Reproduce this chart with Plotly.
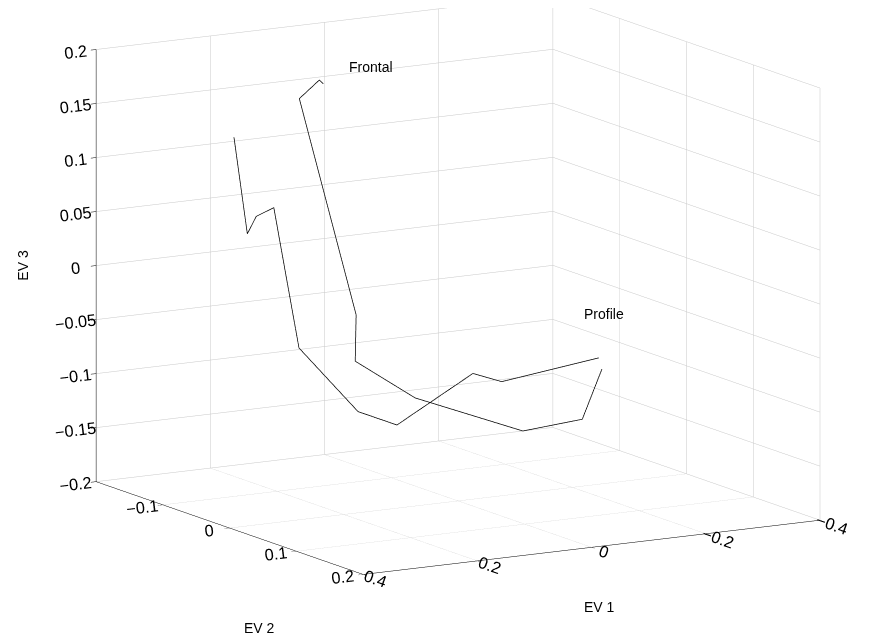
import plotly.graph_objects as go

# Curve "Frontal -> Profile", sequence 1
ev1_a = [0.119, 0.126, 0.161, 0.120, 0.145, 0.075, -0.055, -0.124, -0.135]
ev2_a = [-0.10, -0.10, -0.10, -0.05, -0.03, 0.00, 0.05, 0.08, 0.10]
ev3_a = [0.172, 0.176, 0.161, -0.031, -0.068, -0.100, -0.128, -0.115, -0.065]

# Sequence 2
ev1_b = [0.217, 0.217, 0.213, 0.194, 0.185, 0.140, 0.107, 0.009, -0.018, -0.153]
ev2_b = [-0.15, -0.13, -0.12, -0.11, -0.08, -0.03, 0.00, 0.03, 0.05, 0.08]
ev3_b = [0.118, 0.033, 0.051, 0.060, -0.064, -0.115, -0.123, -0.075, -0.080, -0.060]

# Text labels
label_text = ["Frontal", "Profile"]
label_ev1 = [0.077, -0.100]
label_ev2 = [-0.10, 0.10]
label_ev3 = [0.185, -0.0115]

# Axis ticks
ev1_ticks = [-0.4, -0.2, 0, 0.2, 0.4]
ev2_ticks = [-0.2, -0.1, 0, 0.1, 0.2]
ev3_ticks = [-0.2, -0.15, -0.1, -0.05, 0, 0.05, 0.1, 0.15, 0.2]

# Axis titles
axis_titles = ["EV 1", "EV 2", "EV 3"]

FONT = "Liberation Sans, Arial, Helvetica, sans-serif"

fig = go.Figure()
for xs, ys, zs in [(ev1_a, ev2_a, ev3_a), (ev1_b, ev2_b, ev3_b)]:
    fig.add_trace(go.Scatter3d(
        x=xs, y=ys, z=zs, mode="lines",
        line=dict(color="black", width=1.5),
        showlegend=False, hoverinfo="skip",
    ))

def axis(ticks, rng):
    return dict(
        title=dict(text=""),
        range=rng, tickvals=ticks,
        ticktext=[("\u2212" + f"{abs(t):g}") if t < 0 else f"{t:g}" for t in ticks],
        tickfont=dict(family=FONT, size=14, color="black"),
        showgrid=True, gridcolor="rgb(200,200,200)", gridwidth=1,
        showline=True, linecolor="black", linewidth=1,
        ticks="outside", ticklen=6, tickcolor="black",
        zeroline=False, showbackground=False, showspikes=False,
        autorange=False,
    )

r = 1.8
eye_dir = (0.494, 0.845, 0.203)
s = 1.646
cen = (0.0493, 0.0039, -0.136)

tfont = dict(family=FONT, size=14, color="black")
annotations = [
    dict(x=x, y=y, z=z, text=t, showarrow=False, xanchor="left", font=tfont)
    for t, x, y, z in zip(label_text, label_ev1, label_ev2, label_ev3)
]
# axis titles anchored at the middle of each labelled axis edge
annotations += [
    dict(x=0.0, y=0.2, z=-0.2, text=axis_titles[0], showarrow=False,
         xshift=8, yshift=-60, font=tfont),
    dict(x=0.4, y=0.0, z=-0.2, text=axis_titles[1], showarrow=False,
         xshift=30, yshift=-100, font=tfont),
    dict(x=0.4, y=-0.2, z=0.0, text=axis_titles[2], showarrow=False,
         xshift=-74, yshift=0, textangle=-90, font=tfont),
]

fig.update_layout(
    width=874, height=643,
    margin=dict(l=0, r=0, t=0, b=0),
    paper_bgcolor="white",
    font=dict(family=FONT, size=14, color="black"),
    scene=dict(
        domain=dict(x=[0.0, 1.0], y=[0.0, 1.0]),
        xaxis=axis(ev1_ticks, [-0.4, 0.4]),
        yaxis=axis(ev2_ticks, [-0.2, 0.2]),
        zaxis=axis(ev3_ticks, [-0.2, 0.2]),
        aspectmode="manual",
        aspectratio=dict(x=1.0 * s, y=1.0 * s, z=0.834 * s),
        camera=dict(
            eye=dict(x=cen[0] + r * eye_dir[0], y=cen[1] + r * eye_dir[1],
                     z=cen[2] + r * eye_dir[2]),
            up=dict(x=0, y=0, z=1),
            center=dict(x=cen[0], y=cen[1], z=cen[2]),
            projection=dict(type="orthographic"),
        ),
        annotations=annotations,
    ),
)

fig.write_html("out.html")
